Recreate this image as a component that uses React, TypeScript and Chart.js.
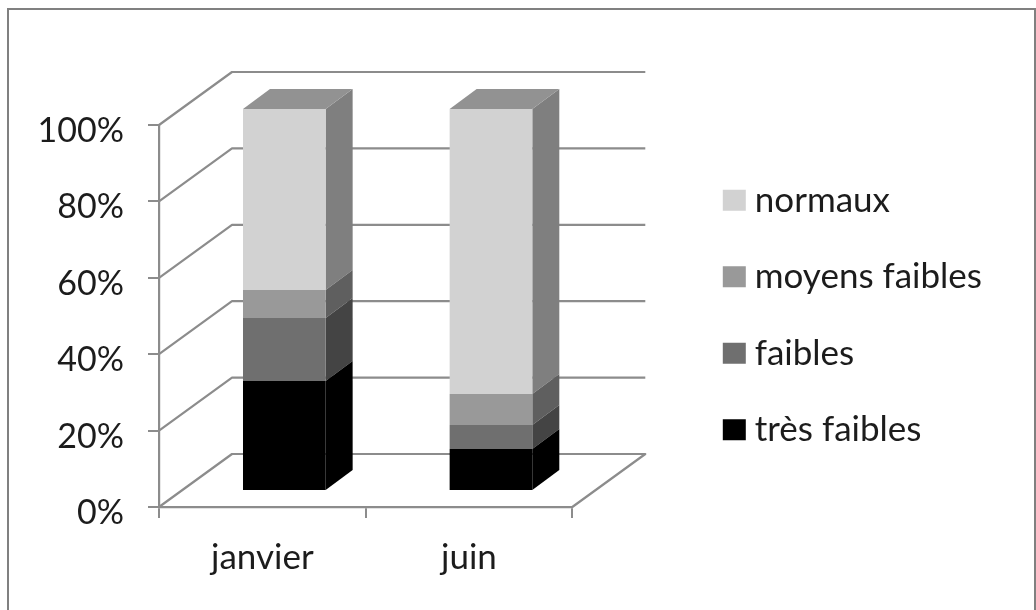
import React, { useEffect, useRef } from "react";
import { Chart, registerables } from "chart.js";

Chart.register(...registerables);

const categories = ["janvier", "juin"];
const tresFaibles = [28.8, 11];
const faibles = [16.5, 6.3];
const moyensFaibles = [7.3, 8.1];
const normaux = [47.4, 74.6];

const seriesNames = ["très faibles", "faibles", "moyens faibles", "normaux"];
const seriesValues = [tresFaibles, faibles, moyensFaibles, normaux];
const frontColors = ["#000000", "#6f6f6f", "#999999", "#d2d2d2"];
const sideColors = ["#000000", "#444444", "#5f5f5f", "#7f7f7f"];
const topColor = "#929292";
const lineColor = "#8c8c8c";
const textColor = "#1c1c1c";
const fontFamily = "Lato, 'Open Sans', sans-serif";

const WALL = { dx: 73, dy: -53 };
const BAR_SHIFT = { dx: 22, dy: -16 };
const DEPTH = { dx: 27, dy: -20 };

const threeD = {
  id: "threeD",
  beforeDraw(chart: any) {
    const { ctx, width } = chart;
    ctx.save();
    ctx.strokeStyle = "#808080";
    ctx.lineWidth = 2;
    ctx.beginPath();
    ctx.moveTo(8, 610);
    ctx.lineTo(8, 9);
    ctx.lineTo(width - 1, 9);
    ctx.lineTo(width - 1, 610);
    ctx.stroke();
    ctx.restore();
    const y = chart.scales.y;
    if (!y.__shifted) {
      y.getLabelItems(chart.chartArea).forEach((it: any) => {
        it.options.translation = [it.options.translation[0], it.options.translation[1] + 6];
      });
      y.__shifted = true;
    }
  },
  beforeDatasetsDraw(chart: any) {
    const { ctx, scales } = chart;
    const { x, y } = scales;
    const l = x.left;
    const r = x.right;
    ctx.save();
    ctx.strokeStyle = lineColor;
    ctx.lineWidth = 2.2;
    ctx.lineJoin = "round";
    y.ticks.forEach((t: any) => {
      const py = y.getPixelForValue(t.value);
      ctx.beginPath();
      ctx.moveTo(l, py);
      ctx.lineTo(l + WALL.dx, py + WALL.dy);
      ctx.lineTo(r + WALL.dx, py + WALL.dy);
      if (t.value === 0) ctx.lineTo(r, py);
      ctx.stroke();
    });
    ctx.restore();
  },
  beforeDatasetDraw(chart: any, args: any) {
    const { ctx } = chart;
    ctx.save();
    ctx.translate(BAR_SHIFT.dx, BAR_SHIFT.dy);
    const isTop = args.index === seriesValues.length - 1;
    args.meta.data.forEach((el: any) => {
      const right = el.x + el.width / 2;
      const left = el.x - el.width / 2;
      ctx.fillStyle = sideColors[args.index];
      ctx.beginPath();
      ctx.moveTo(right, el.y);
      ctx.lineTo(right + DEPTH.dx, el.y + DEPTH.dy);
      ctx.lineTo(right + DEPTH.dx, el.base + DEPTH.dy);
      ctx.lineTo(right, el.base);
      ctx.closePath();
      ctx.fill();
      if (isTop) {
        ctx.fillStyle = topColor;
        ctx.beginPath();
        ctx.moveTo(left, el.y);
        ctx.lineTo(left + DEPTH.dx, el.y + DEPTH.dy);
        ctx.lineTo(right + DEPTH.dx, el.y + DEPTH.dy);
        ctx.lineTo(right, el.y);
        ctx.closePath();
        ctx.fill();
      }
    });
  },
  afterDatasetDraw(chart: any) {
    chart.ctx.restore();
  },
};

export default function App() {
  const ref = useRef<HTMLCanvasElement>(null);
  useEffect(() => {
    const chart = new Chart(ref.current as HTMLCanvasElement, {
      type: "bar",
      data: {
        labels: categories,
        datasets: seriesNames.map((name, i) => ({
          label: name,
          data: seriesValues[i],
          backgroundColor: frontColors[i],
          barPercentage: 0.4,
          categoryPercentage: 1,
          clip: false as any,
        })),
      },
      plugins: [threeD],
      options: {
        responsive: false,
        animation: false,
        devicePixelRatio: 1,
        layout: { padding: { top: 20, left: 0, right: 44, bottom: 0 } },
        scales: {
          x: {
            stacked: true,
            position: "bottom",
            afterFit: (s: any) => { s.height = 103; },
            grid: { drawOnChartArea: false, color: lineColor, lineWidth: 2, tickLength: 11, offset: true },
            border: { color: lineColor, width: 2.2 },
            ticks: { color: textColor, font: { family: fontFamily, size: 35 }, padding: 19, maxRotation: 0 },
          },
          y: {
            stacked: true,
            min: 0,
            max: 100,
            afterFit: (s: any) => { s.width = 159; },
            grid: { drawOnChartArea: false, color: lineColor, lineWidth: 2, tickLength: 11 },
            border: { color: lineColor, width: 2.2 },
            ticks: {
              stepSize: 20,
              color: textColor,
              font: { family: fontFamily, size: 34 },
              padding: 24,
              callback: (v: any) => `${v}%`,
            },
          },
          xPad: {
            type: "category",
            axis: "x",
            position: "top",
            labels: [""],
            afterFit: (s: any) => { s.height = 105; },
            grid: { display: false },
            border: { display: false },
            ticks: { display: false },
          },
          yPad: {
            type: "linear",
            axis: "y",
            position: "right",
            afterFit: (s: any) => { s.width = 117.5; },
            grid: { display: false },
            border: { display: false },
            ticks: { display: false },
          },
        } as any,
        plugins: {
          tooltip: { enabled: false },
          legend: {
            position: "right",
            reverse: true,
            maxWidth: 349,
            labels: {
              color: textColor,
              font: { family: fontFamily, size: 35 },
              boxWidth: 6,
              boxHeight: 4,
              padding: 41.5,
              generateLabels: (c: any) =>
                (Chart.defaults.plugins.legend.labels.generateLabels as any)(c).map((it: any) => ({
                  ...it,
                  strokeStyle: it.fillStyle,
                  lineWidth: 17,
                })),
            },
          },
        },
      },
    } as any);
    return () => chart.destroy();
  }, []);
  return (
    <div style={{ position: "fixed", left: 0, top: 0, width: 1036, height: 610, background: "#fff" }}>
      <canvas ref={ref} width={1036} height={610} style={{ display: "block", filter: "blur(0.6px)" }} />
    </div>
  );
}
